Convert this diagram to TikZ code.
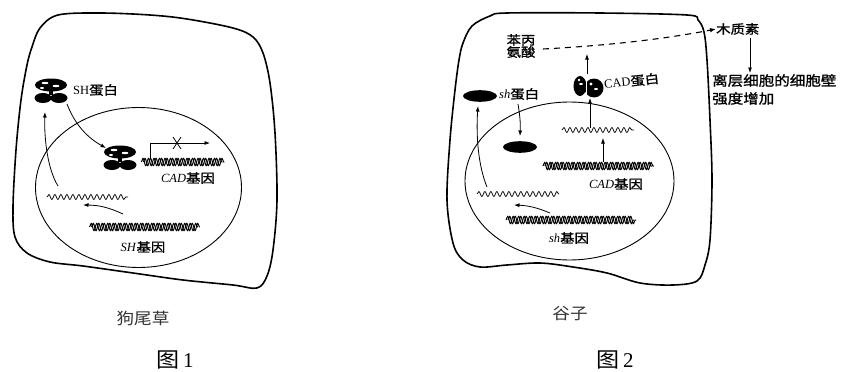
\documentclass[tikz,border=0pt]{standalone}
\usepackage{fontspec}
\setmainfont{Liberation Serif}
\newfontfamily\cjk{Noto Sans CJK SC}[FakeStretch=1.15, FakeBold=1.3]
\newfontfamily\cjkcap{Noto Sans CJK SC}[FakeStretch=1.1]
\usetikzlibrary{decorations.pathmorphing,arrows.meta,calc}

\tikzset{
  cell/.style={line width=1.6pt, line join=round},
  nucleus/.style={line width=0.9pt},
  arr/.style={-{Latex[length=5.5pt,width=4pt]}, line width=0.8pt},
  lab/.style={font=\fontsize{12.5}{13}\selectfont, inner sep=0pt},
  captext/.style={font=\fontsize{16}{18}\selectfont, inner sep=0pt, text=black!80},
  figtext/.style={font=\fontsize{21}{23}\selectfont, inner sep=0pt},
  mrna/.style={decorate, decoration={snake, segment length=6pt, amplitude=2.4pt}, line width=0.75pt},
  dnastrand/.style={decorate, decoration={snake, segment length=5.5pt, amplitude=3.8pt}, line width=1pt, line join=round},
  % transcription factor with its two lower lobes
  shprot/.pic={
    \fill (0,-6) ellipse [x radius=16, y radius=6.5];
    \fill (-8,7) ellipse [x radius=8.5, y radius=5];
    \fill (8,7) ellipse [x radius=8.5, y radius=5];
    \fill (-2,-1) rectangle (2,4);
    \fill[white] (-6,-8) ellipse [x radius=3.5, y radius=1.2];
    \fill[white] (5,-5) ellipse [x radius=3.5, y radius=1.2];
    \fill[white] (-9,-3) ellipse [x radius=2, y radius=1];
    \draw[white, line width=0.7pt] (-13,1) -- (-3,1) (3,1) -- (13,1);
  },
  cadprot/.pic={
    \fill (-8,-1) ellipse [x radius=6.5, y radius=10];
    \fill (6,1) circle [radius=9.5];
    \fill[white] (-9,-7) circle [radius=1.4];
    \fill[white] (-7,-3) ellipse [x radius=2, y radius=0.9];
    \fill[white] (3,-3) circle [radius=1.6];
    \fill[white] (8,2) ellipse [x radius=2, y radius=1];
    \draw[white, line width=0.6pt] (-1.5,-6) -- (-1.5,9);
  },
  blob/.pic={
    \fill (0,0) ellipse [x radius=17, y radius=5.8];
  }
}

% double-stranded DNA between two points, drawn slanted
\newcommand{\dnapair}[2]{%
  \begin{scope}[xslant=0.35]
  \draw[dnastrand] #1 -- #2;
  \draw[dnastrand, xshift=2pt] #1 -- #2;
  \end{scope}
}

\begin{document}
\begin{tikzpicture}[x=1pt, y=-1pt]
\useasboundingbox (0,0) rectangle (852,372);

%% ---------- Fig. 1 ----------
\draw[cell] plot[smooth cycle, tension=0.55] coordinates {
  (32,47) (40,28) (58,15) (100,13) (150,15) (187,19) (233,28) (253,37) (263,53)
  (270,83) (275,133) (277,200) (273,250) (267,276) (257,288) (233,285)
  (183,280) (133,273) (83,266) (50,262) (27,253) (15,237) (13,207)
  (16,150) (21,100) (27,65)};
\draw[nucleus] (138.5,187.5) ellipse [x radius=103, y radius=80];

% free SH protein
\pic at (51,91) {shprot};
\coordinate (shA) at (51,91);
\node[lab, anchor=west] (shlab) at (73,90) {SH\cjk 蛋白};

% SH protein bound to the CAD promoter
\pic at (120,158) {shprot};
\coordinate (shB) at (120,158);

% CAD gene (blocked)
\dnapair{(198,162)}{(279,162)}
\node[lab] (cad1) at (188,178) {\textit{CAD}\cjk 基因};
\coordinate (p0) at (150,158);
\coordinate (p1) at (150,143);
\coordinate (p2) at (210,143);
\draw[arr] (p0) -- (p1) -- (p2);
\coordinate (xm) at (177,143);
\draw[line width=0.8pt] ($(xm)+(-4,-6)$) -- ($(xm)+(4,6)$) ($(xm)+(4,-6)$) -- ($(xm)+(-4,6)$);

% SH mRNA and SH gene
\coordinate (m1a) at (47,197);
\coordinate (m1b) at (128,197);
\draw[mrna] (m1a) -- (m1b);
\dnapair{(169,227)}{(277,227)}
\node[lab] (sh1) at (143,247) {\textit{SH}\cjk 基因};

% arrows of fig. 1
\coordinate (g1s) at (123,214);
\coordinate (g1e) at (83,205);
\draw[arr] (g1s) to[bend right=12] (g1e);
\coordinate (u1s) at (58,186);
\coordinate (u1e) at (45,112);
\draw[arr] (u1s) .. controls (48,170) and (44,140) .. (u1e);
\coordinate (d1s) at (67,104);
\coordinate (d1e) at (106,148);
\draw[arr] (d1s) .. controls (75,125) and (88,138) .. (d1e);

\node[captext] (n1) at (143,318) {\cjkcap 狗尾草};
\node[figtext] (f1) at (175,360) {\cjkcap 图\,\rmfamily 1};

%% ---------- Fig. 2 ----------
\draw[cell] plot[smooth cycle, tension=0.55] coordinates {
  (463,43) (472,26) (490,16) (507,13) (600,13) (687,15) (698,20) (704,32)
  (707,60) (710,120) (712,180) (710,240) (705,265) (697,281) (673,285)
  (640,283) (607,273) (573,267) (540,263) (507,265) (480,267) (463,260)
  (453,243) (447,200) (450,140) (455,90) (459,60)};
\draw[nucleus] (569.5,181) ellipse [x radius=104.5, y radius=79];

% phenylalanine -> lignin
\node[lab, align=center] (phe) at (521,46) {\cjk 苯丙\\[-1pt]\cjk 氨酸};
\node[lab, anchor=west] (lig) at (716,29) {\cjk 木质素};
\coordinate (dsa) at (543,49);
\draw[dashed, dash pattern=on 6pt off 5pt, line width=1.1pt, -{Latex[length=6pt,width=4.5pt]}]
  (dsa) .. controls (600,46) and (660,40) .. (lig.west);
\node[lab, anchor=north west, align=left, font=\fontsize{13.5}{18}\selectfont] (wall) at (712,74)
  {\cjk 离层细胞的细胞壁\\\cjk 强度增加};
\coordinate (ligb) at (750,38);
\coordinate (wallt) at (750,73);
\draw[arr] (ligb) -- (wallt);

% sh protein in cytoplasm and in nucleus
\pic at (480,96) {blob};
\coordinate (shp) at (480,96);
\node[lab, anchor=west] (shlab2) at (499,94) {\textit{sh}\cjk 蛋白};
\pic at (520,147) {blob};
\coordinate (shn) at (520,147);
\coordinate (d2s) at (518,104);
\coordinate (d2e) at (520,136);
\draw[arr] (d2s) to[bend left=6] (d2e);

% CAD protein
\pic at (588,87) {cadprot};
\coordinate (cadp) at (588,87);
\node[lab, anchor=west, rotate=6] (cadlab) at (604,84) {CAD\cjk 蛋白};
\coordinate (c2s) at (587,74);
\coordinate (c2e) at (587,54);
\draw[arr] (c2s) -- (c2e);

% CAD mRNA and CAD gene
\draw[mrna] (562,130) -- (634,130);
\coordinate (mc) at (590,128);
\coordinate (mct) at (590,98);
\draw[arr] (mc) -- (mct);
\dnapair{(601,166)}{(710,166)}
\node[lab] (cad2) at (616,184) {\textit{CAD}\cjk 基因};
\coordinate (gc) at (603,162);
\coordinate (gct) at (603,138);
\draw[arr] (gc) -- (gct);

% sh mRNA and sh gene
\draw[mrna] (477,194) -- (559,194);
\dnapair{(583,220)}{(711,220)}
\node[lab] (sh2) at (569,238) {\textit{sh}\cjk 基因};
\coordinate (g2s) at (550,213);
\coordinate (g2e) at (514,205);
\draw[arr] (g2s) to[bend right=10] (g2e);
\coordinate (u2s) at (487,187);
\coordinate (u2e) at (478,106);
\draw[arr] (u2s) .. controls (478,165) and (476,135) .. (u2e);

\node[captext] (n2) at (570,314) {\cjkcap 谷子};
\node[figtext] (f2) at (615,360) {\cjkcap 图\,\rmfamily 2};
\end{tikzpicture}
\end{document}
